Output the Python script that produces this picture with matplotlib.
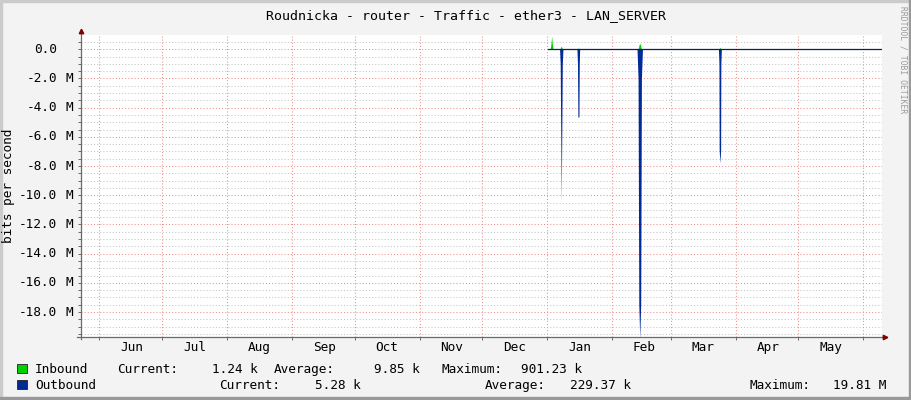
import numpy as np
import matplotlib
matplotlib.use("Agg")
import matplotlib.pyplot as plt
from matplotlib.patches import Rectangle

title = "Roudnicka - router - Traffic - ether3 - LAN_SERVER"
ylabel = "bits per second"

# x axis: days counted from 1 Jun
months = ['Jun', 'Jul', 'Aug', 'Sep', 'Oct', 'Nov', 'Dec', 'Jan', 'Feb', 'Mar', 'Apr', 'May']
month_start = [0, 30, 61, 92, 122, 153, 183, 214, 245, 273, 304, 334, 365]

# inbound traffic (bits/s, drawn up)
in_days = [214.2, 215.4, 215.75, 216.1, 216.45, 216.8,
           220.0, 220.7, 221.3, 228.3, 228.9, 229.5,
           257.4, 257.9, 258.2, 258.6, 259.0, 295.9, 296.5, 297.1, 373.8]
in_vals = [1.2e3, 1.2e3, 0.35e6, 901.23e3, 0.35e6, 1.2e3,
           1.2e3, 0.22e6, 1.2e3, 1.2e3, 0.10e6, 1.2e3,
           1.2e3, 0.30e6, 0.42e6, 0.25e6, 1.2e3, 1.2e3, 0.13e6, 1.2e3, 1.24e3]

# outbound traffic (bits/s, drawn down)
out_days = [214.2, 219.9, 220.2, 220.7, 221.2, 221.5,
            228.2, 228.45, 228.65, 229.15, 229.3, 229.5,
            256.9, 257.4, 257.75, 258.2, 258.65, 259.0, 259.5,
            295.8, 296.05, 296.15, 296.5, 296.85, 296.95, 297.2, 373.8]
out_vals = [5e3, 5e3, 1.0e6, 10.5e6, 1.0e6, 5e3,
            5e3, 1.0e6, 4.64e6, 4.64e6, 1.0e6, 5e3,
            5e3, 2.0e6, 17.5e6, 19.81e6, 17.5e6, 2.0e6, 5e3,
            5e3, 1.0e6, 6.9e6, 7.8e6, 6.9e6, 1.0e6, 5e3, 5.28e3]

in_stats = [1.24e3, 9.85e3, 901.23e3]     # current, average, maximum
out_stats = [5.28e3, 229.37e3, 19.81e6]

yticks = np.arange(0, -19e6, -2e6)
yminor = [v for v in np.arange(0.5e6, -19.6e6, -0.5e6) if v % 2e6 != 0]

W, H = 911, 400
mono = 'DejaVu Sans Mono'
green = '#00CF00'
blue = '#002A97'
axis_col = '#6A6A6A'


def si(v):
    if v >= 1e6:
        return "%.2f M" % (v / 1e6)
    return "%.2f k" % (v / 1e3)


fig = plt.figure(figsize=(W / 100, H / 100), dpi=100, facecolor='#F3F3F3')

# 3d frame like rrdtool
fig.patches.append(Rectangle((0, 1 - 2 / H), 1, 2 / H, transform=fig.transFigure, color='#CBCBCB', zorder=0))
fig.patches.append(Rectangle((0, 0), 2 / W, 1, transform=fig.transFigure, color='#CBCBCB', zorder=0))
fig.patches.append(Rectangle((1 - 2 / W, 0), 2 / W, 1, transform=fig.transFigure, color='#999999', zorder=0))
fig.patches.append(Rectangle((0, 0), 1, 3 / H, transform=fig.transFigure, color='#999999', zorder=0))

ax = fig.add_axes([80.7 / W, 63.3 / H, 801 / W, 301.7 / H])
ax.set_facecolor('white')
ax.set_xlim(-8.9, 373.8)
ax.set_ylim(-19.69e6, 0.976e6)

for s in ax.spines.values():
    s.set_visible(False)

ax.set_xticks(month_start)
ax.set_xticklabels([])
ax.set_yticks(yticks)
ax.set_yticks(yminor, minor=True)
ax.set_yticklabels([])
ax.tick_params(axis='both', which='both', length=2.2, width=0.7, color=axis_col, direction='out')

# grid (dotted, rrdtool style)
dot = (0, (1, 2))
for v in yminor:
    ax.axhline(v, color='#C4C4C4', linestyle=dot, linewidth=0.75, zorder=1)
for v in yticks:
    ax.axhline(v, color='#EE8F8F', linestyle=dot, linewidth=0.75, zorder=1)
for d in month_start:
    ax.axvline(d, color='#EE8F8F', linestyle=dot, linewidth=0.75, zorder=1)

# data
ax.fill_between(in_days, 0, in_vals, color=green, linewidth=0, zorder=3)
ax.fill_between(out_days, 0, -np.array(out_vals), color=blue, linewidth=0, zorder=3)
ax.plot([out_days[0], out_days[-1]], [0, 0], color='#0D1F5C', linewidth=0.9, zorder=4)

# axes with arrows
ax.plot([0, 0], [-0.008, 1.0166], color=axis_col, linewidth=0.9, transform=ax.transAxes, clip_on=False, zorder=5)
ax.plot([-0.0046, 1.0066], [0, 0], color=axis_col, linewidth=0.9, transform=ax.transAxes, clip_on=False, zorder=5)
ax.plot([0], [1.013], marker='^', ms=3.2, color='#7F0000', transform=ax.transAxes, clip_on=False, zorder=6)
ax.plot([1.0041], [0], marker='>', ms=3.2, color='#7F0000', transform=ax.transAxes, clip_on=False, zorder=6)

# month labels in the middle of each month
xt = ax.get_xaxis_transform()
for m, d in zip(months, month_start):
    ax.text(d + 15.4, -(351 - 336.7) / 301.7, m, transform=xt, ha='center', va='baseline',
            fontsize=9.2, family=mono)

# y labels
yt = ax.get_yaxis_transform()
for v in yticks:
    ax.text((57 - 80.7) / 801, v, "%.1f" % (v / 1e6), transform=yt, ha='right', va='center',
            fontsize=9.2, family=mono)
    if v != 0:
        ax.text((65 - 80.7) / 801, v, "M", transform=yt, ha='left', va='center',
                fontsize=9.2, family=mono)

fig.text(8.5 / W, 1 - 186 / H, ylabel, rotation=90, ha='center', va='center', fontsize=9.2, family=mono)
fig.text(466.5 / W, 1 - 19 / H, title, ha='center', va='baseline', fontsize=9.5, family=mono)
fig.text(903 / W, 1 - 60 / H, "RRDTOOL / TOBI OETIKER", rotation=270, ha='center', va='center',
         fontsize=5.8, family=mono, color='#9A9A9A')

# legend
rows = [
    (green, 372.7, [("Inbound", 35), ("Current:", 117), (si(in_stats[0]), 212), ("Average:", 274),
                    (si(in_stats[1]), 374), ("Maximum:", 441), (si(in_stats[2]), 521)]),
    (blue, 388.7, [("Outbound", 35), ("Current:", 219), (si(out_stats[0]), 315), ("Average:", 485),
                   (si(out_stats[1]), 570), ("Maximum:", 749), (si(out_stats[2]), 833)]),
]
for col, base, items in rows:
    fig.patches.append(Rectangle((17.3 / W, 1 - base / H), 9.4 / W, 8.7 / H, transform=fig.transFigure,
                                 facecolor=col, edgecolor='#333333', linewidth=0.7, zorder=2))
    for txt, x in items:
        fig.text(x / W, 1 - base / H, txt, ha='left', va='baseline', fontsize=9.2, family=mono)

plt.savefig('out.png', dpi=100, facecolor=fig.get_facecolor())
